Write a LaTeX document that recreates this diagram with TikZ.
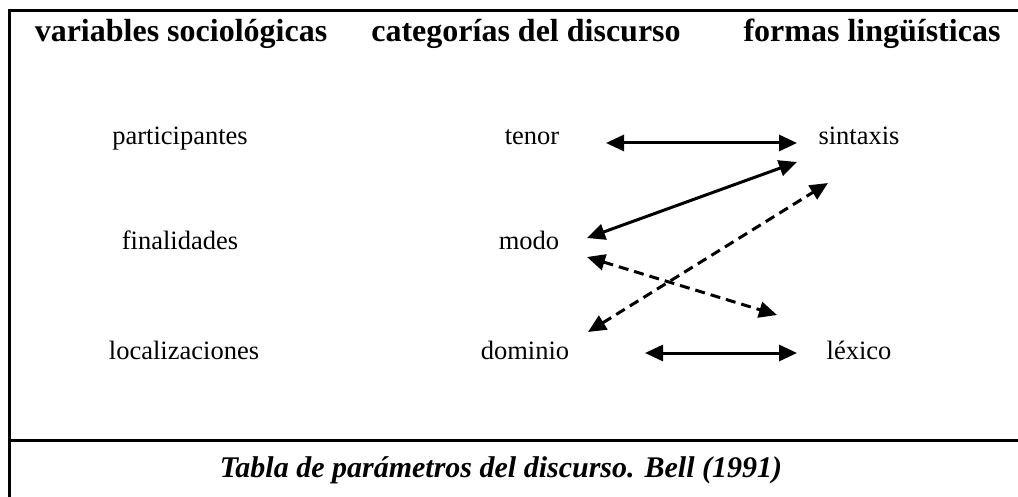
\documentclass[tikz,border=0pt]{standalone}
\usepackage{fontspec}
\setmainfont{Liberation Serif}
\usetikzlibrary{arrows.meta,calc}

\begin{document}
\begin{tikzpicture}[x=1pt,y=-1pt,
  head/.style={anchor=base,inner sep=0pt,font=\fontsize{32}{36}\selectfont\bfseries},
  item/.style={anchor=base,inner sep=0pt,font=\fontsize{26.5}{30}\selectfont},
  link/.style={{Triangle[length=18pt,width=16pt]}-{Triangle[length=18pt,width=16pt]},line width=3pt},
  dlink/.style={link,dash pattern=on 10pt off 6pt}]
  \useasboundingbox (0,0) rectangle (1018,497);

  % frame
  \draw[line width=3pt] (1018,11) -- (9,11) -- (9,497);
  \draw[line width=3pt] (9,440) -- (1018,440);

  % column heads
  \node[head] (hvar) at (181,42) {variables sociológicas};
  \node[head] (hcat) at (526,42) {categorías del discurso};
  \node[head] (hform) at (872,42) {formas lingüísticas};

  % left column
  \node[item] (part) at (180,145) {participantes};
  \node[item] (fin) at (180,250) {finalidades};
  \node[item] (loc) at (184,359) {localizaciones};

  % middle column
  \node[item] (tenor) at (532,145) {tenor};
  \node[item] (modo) at (529,250) {modo};
  \node[item] (dominio) at (525,359) {dominio};

  % right column
  \node[item] (sintaxis) at (859,145) {sintaxis};
  \node[item] (lexico) at (859,359) {léxico};

  % links
  \draw[link] ($(tenor.base)+(74,-2)$) -- ($(sintaxis.base)+(-62,-2)$);
  \draw[link] ($(modo.base)+(58,-12)$) -- ($(sintaxis.base)+(-62,17)$);
  \draw[dlink] ($(dominio.base)+(63,-27)$) -- ($(sintaxis.base)+(-31,38)$);
  \draw[dlink] ($(modo.base)+(58,7)$) -- ($(lexico.base)+(-82,-44)$);
  \draw[link] ($(dominio.base)+(120,-6)$) -- ($(lexico.base)+(-62,-6)$);

  % caption
  \node[anchor=base,inner sep=0pt,font=\fontsize{30}{34}\selectfont\bfseries\itshape] (cap) at (501,477)
    {Tabla de parámetros del discurso. Bell (1991)};
\end{tikzpicture}
\end{document}
